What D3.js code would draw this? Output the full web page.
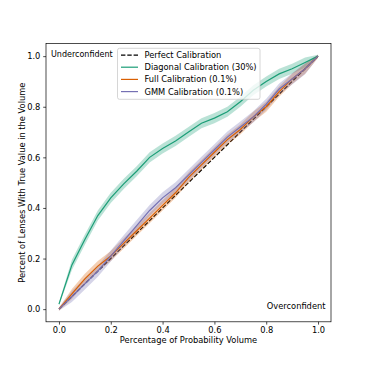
<!DOCTYPE html>
<html><head><meta charset="utf-8">
<script src="https://cdn.jsdelivr.net/npm/d3@7"></script>
<style>body{margin:0;background:#fff}text{font-family:"DejaVu Sans",sans-serif}</style>
</head><body>
<svg id="c" width="368" height="368"></svg>
<script>
const xs = [0,0.05,0.1,0.15,0.2,0.25,0.3,0.35,0.4,0.45,0.5,0.55,0.6,0.65,0.7,0.75,0.8,0.85,0.9,0.95,1.0];
const diagonal = [0.02,0.175,0.275,0.37,0.44,0.495,0.545,0.60,0.635,0.665,0.70,0.735,0.755,0.78,0.82,0.865,0.90,0.93,0.95,0.975,1.0];
const full = [0.0,0.06,0.12,0.17,0.21,0.26,0.31,0.36,0.41,0.46,0.52,0.57,0.62,0.67,0.71,0.76,0.80,0.86,0.91,0.95,1.0];
const gmm = [0.0,0.05,0.10,0.15,0.21,0.27,0.33,0.39,0.44,0.48,0.53,0.58,0.63,0.68,0.72,0.76,0.81,0.87,0.91,0.95,1.0];
const diagErr = 0.02, fullErr = 0.02, gmmErr = 0.022;
const ticks = [0,0.2,0.4,0.6,0.8,1.0];
const labels = ["Perfect Calibration","Diagonal Calibration (30%)","Full Calibration (0.1%)","GMM Calibration (0.1%)"];
const colors = ["#000000","#1b9e77","#d95f02","#7570b3"];

const svg = d3.select("#c");
const L=46, R=331, T=43.5, B=321.8;
const FS = "8.3px";
const x = d3.scaleLinear().domain([-0.05,1.05]).range([L,R]);
const y = d3.scaleLinear().domain([-0.05,1.05]).range([B,T]);

const series = [
  {v: diagonal, e: diagErr, c: colors[1]},
  {v: full, e: fullErr, c: colors[2]},
  {v: gmm, e: gmmErr, c: colors[3]}
];
const area = d3.area().x(d=>x(d[0])).y0(d=>y(d[1]-d[2])).y1(d=>y(d[1]+d[2]));
const line = d3.line().x(d=>x(d[0])).y(d=>y(d[1]));

svg.append("path").datum(xs.map(v=>[v,v])).attr("d",line)
  .attr("fill","none").attr("stroke","#000").attr("stroke-width",1.2).attr("stroke-dasharray","4.4,1.9");

series.forEach(s=>{
  const pts = xs.map((v,i)=>{
    const e = (i===0||i===xs.length-1)? s.e*0.3 : s.e;
    return [v, s.v[i], e];
  });
  svg.append("path").datum(pts).attr("d",area).attr("fill",s.c).attr("opacity",0.3);
});
series.forEach(s=>{
  svg.append("path").datum(xs.map((v,i)=>[v,s.v[i]])).attr("d",line)
    .attr("fill","none").attr("stroke",s.c).attr("stroke-width",1.2);
});

// axes
const xa = svg.append("g").attr("transform",`translate(0,${B})`)
  .call(d3.axisBottom(x).tickValues(ticks).tickFormat(d3.format(".1f")).tickSize(2.8).tickPadding(2.8));
const ya = svg.append("g").attr("transform",`translate(${L},0)`)
  .call(d3.axisLeft(y).tickValues(ticks).tickFormat(d3.format(".1f")).tickSize(2.8).tickPadding(2.8));
[xa,ya].forEach(a=>{
  a.select(".domain").remove();
  a.selectAll("text").attr("font-size",FS).attr("font-family","DejaVu Sans").attr("fill","#000");
  a.selectAll("line").attr("stroke","#000").attr("stroke-width",0.7);
});
svg.append("rect").attr("x",L).attr("y",T).attr("width",R-L).attr("height",B-T)
  .attr("fill","none").attr("stroke","#000").attr("stroke-width",0.7);

svg.append("text").attr("x",(L+R)/2).attr("y",343).attr("text-anchor","middle")
  .attr("font-size",FS).text("Percentage of Probability Volume");
svg.append("text").attr("transform",`translate(24.5,${(T+B)/2}) rotate(-90)`).attr("text-anchor","middle")
  .attr("font-size",FS).text("Percent of Lenses With True Value in the Volume");

svg.append("text").attr("x",51).attr("y",56.5).attr("font-size","8px").text("Underconfident");
svg.append("text").attr("x",325.5).attr("y",309).attr("text-anchor","end").attr("font-size",FS).text("Overconfident");

// legend
const lg = svg.append("g");
lg.append("rect").attr("x",117.5).attr("y",48.3).attr("width",142.5).attr("height",51)
  .attr("rx",2).attr("fill","#fff").attr("fill-opacity",0.8).attr("stroke","#cccccc").attr("stroke-width",0.8);
const ly = [55.2,67.2,79.4,91.6];
labels.forEach((t,i)=>{
  lg.append("line").attr("x1",121).attr("x2",138).attr("y1",ly[i]).attr("y2",ly[i])
    .attr("stroke",colors[i]).attr("stroke-width",1.2)
    .attr("stroke-dasharray", i===0?"4.4,1.9":null);
  lg.append("text").attr("x",144.5).attr("y",ly[i]).attr("dy","0.35em").attr("font-size",FS).text(t);
});
</script>
</body></html>
